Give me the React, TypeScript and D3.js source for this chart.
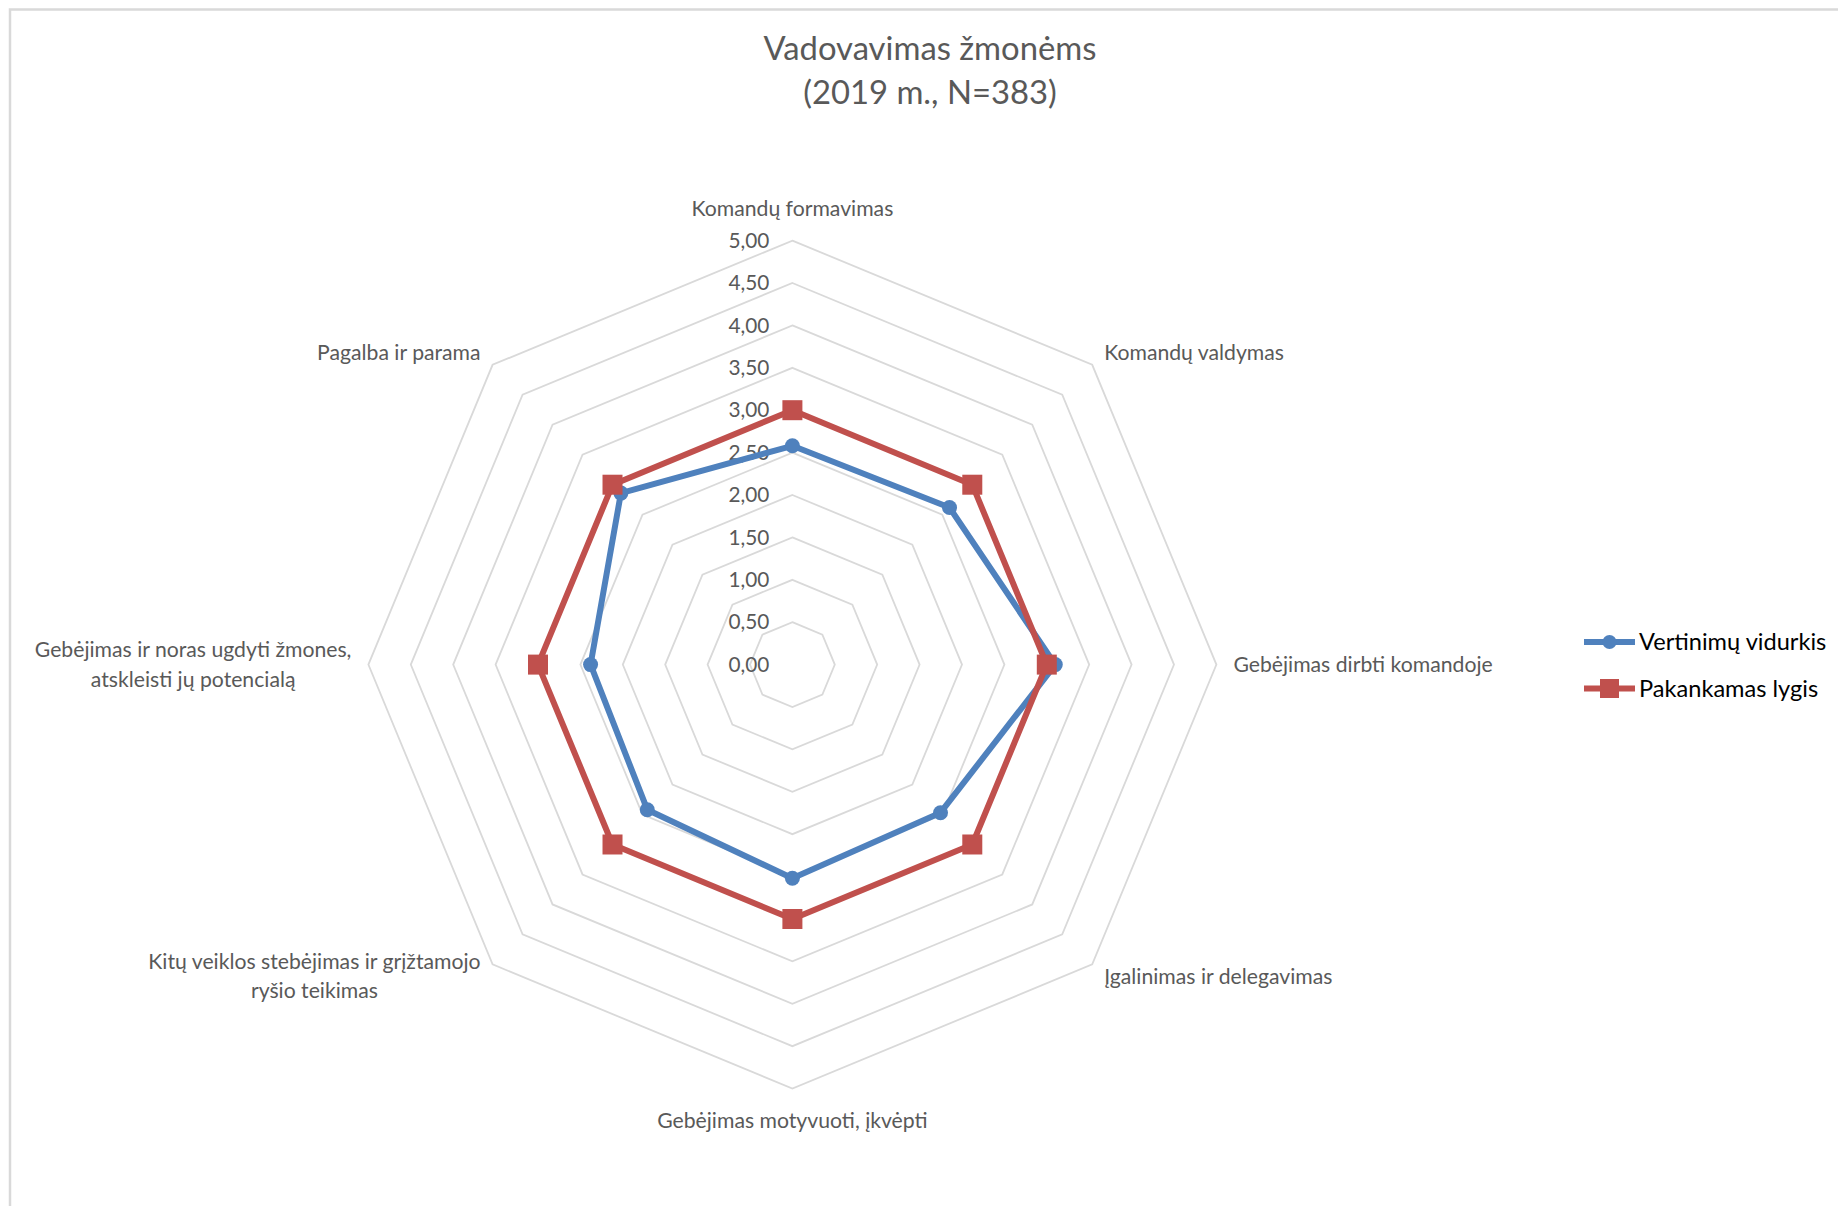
import React, { useEffect, useRef } from 'react';
import * as d3 from 'd3';

// chart data
const categories = [
  'Komandų formavimas',
  'Komandų valdymas',
  'Gebėjimas dirbti komandoje',
  'Įgalinimas ir delegavimas',
  'Gebėjimas motyvuoti, įkvėpti',
  'Kitų veiklos stebėjimas ir grįžtamojo\nryšio teikimas',
  'Gebėjimas ir noras ugdyti žmones,\natskleisti jų potencialą',
  'Pagalba ir parama',
];
const averageValues = [2.58, 2.62, 3.1, 2.47, 2.52, 2.42, 2.38, 2.86];
const requiredValues = [3, 3, 3, 3, 3, 3, 3, 3];
const tickValues = [0, 0.5, 1, 1.5, 2, 2.5, 3, 3.5, 4, 4.5, 5];
const seriesNames = ['Vertinimų vidurkis', 'Pakankamas lygis'];
const seriesColors = ['#4f81bd', '#c0504d'];
const titleLines = ['Vadovavimas žmonėms', '(2019 m., N=383)'];

const WIDTH = 1838;
const HEIGHT = 1206;
const FONT = 'Lato, Carlito, Calibri, sans-serif';
const GRAY = '#595959';

const ltFormat = d3.formatLocale({
  decimal: ',',
  thousands: ' ',
  grouping: [3],
  currency: ['', ' €'],
}).format(',.2f');

const App = () => {
  const svgRef = useRef<SVGSVGElement>(null);

  useEffect(() => {
    const svg = d3.select(svgRef.current);
    svg.selectAll('*').remove();

    const cx = 792.4;
    const cy = 664.6;
    const R = 424;
    const n = categories.length;

    const r = d3.scaleLinear().domain([0, 5]).range([0, R]);
    const angle = d3.scaleLinear().domain([0, n]).range([0, 2 * Math.PI]);

    // chart area border
    svg
      .append('rect')
      .attr('x', 10)
      .attr('y', 9.5)
      .attr('width', WIDTH + 20)
      .attr('height', HEIGHT + 20)
      .attr('fill', '#fff')
      .attr('stroke', '#d9d9d9')
      .attr('stroke-width', 2.5);

    // title
    svg
      .append('g')
      .selectAll('text')
      .data(titleLines)
      .enter()
      .append('text')
      .attr('x', 930)
      .attr('y', (d, i) => 49 + i * 43.5)
      .attr('dy', '0.35em')
      .attr('text-anchor', 'middle')
      .style('font-family', FONT)
      .style('font-size', '32.8px')
      .style('fill', GRAY)
      .text((d) => d);

    const g = svg.append('g').attr('transform', `translate(${cx},${cy})`);

    // grid rings
    const ring = d3
      .lineRadial<number>()
      .angle((d, i) => angle(i))
      .radius((d) => r(d))
      .curve(d3.curveLinearClosed);

    g.selectAll('.ring')
      .data(tickValues.filter((t) => t > 0))
      .enter()
      .append('path')
      .attr('class', 'ring')
      .attr('d', (t) => ring(d3.range(n).map(() => t)))
      .attr('fill', 'none')
      .attr('stroke', '#d9d9d9')
      .attr('stroke-width', 1.8);

    // tick labels
    g.selectAll('.tick')
      .data(tickValues)
      .enter()
      .append('text')
      .attr('class', 'tick')
      .attr('x', -23)
      .attr('y', (t) => -r(t))
      .attr('dy', '0.35em')
      .attr('text-anchor', 'end')
      .style('font-family', FONT)
      .style('font-size', '20.8px')
      .style('fill', GRAY)
      .text((t) => ltFormat(t));

    // category labels
    const pad = 17;
    const lineH = 29.3;
    categories.forEach((label, i) => {
      const a = angle(i);
      const s = Math.sin(a);
      const c = Math.cos(a);
      const vx = r(5) * s;
      const vy = -r(5) * c;
      const lines = label.split('\n');
      const blockH = lines.length * lineH;

      let centerY;
      if (Math.abs(s) < 0.01) {
        centerY = c > 0 ? vy - pad - blockH / 2 : vy + pad + blockH / 2;
      } else {
        centerY = vy - pad * c;
      }

      const t = g
        .append('text')
        .style('font-family', FONT)
        .style('font-size', '21.2px')
        .style('fill', GRAY)
        .attr('text-anchor', 'middle');

      const spans = lines.map((line, k) =>
        t
          .append('tspan')
          .attr('y', centerY + (k - (lines.length - 1) / 2) * lineH)
          .attr('dy', '0.35em')
          .text(line),
      );

      const w = d3.max(spans, (sp) => (sp.node() as SVGTSpanElement).getComputedTextLength()) || 0;
      let mx;
      if (Math.abs(s) < 0.01) mx = vx;
      else if (s > 0) mx = vx + pad * s + w / 2;
      else mx = vx + pad * s - w / 2;
      spans.forEach((sp) => sp.attr('x', mx));
    });

    // series
    const seriesData = [averageValues, requiredValues];
    const seriesLine = d3
      .lineRadial<number>()
      .angle((d, i) => angle(i))
      .radius((d) => r(d))
      .curve(d3.curveLinearClosed);

    seriesData.forEach((values, si) => {
      const sg = g.append('g');
      sg.append('path')
        .attr('d', seriesLine(values))
        .attr('fill', 'none')
        .attr('stroke', seriesColors[si])
        .attr('stroke-width', 6)
        .attr('stroke-linejoin', 'round');

      const pts = values.map((v, i) => [r(v) * Math.sin(angle(i)), -r(v) * Math.cos(angle(i))]);
      if (si === 0) {
        sg.selectAll('circle')
          .data(pts)
          .enter()
          .append('circle')
          .attr('cx', (d) => d[0])
          .attr('cy', (d) => d[1])
          .attr('r', 7.5)
          .attr('fill', seriesColors[si]);
      } else {
        sg.selectAll('rect')
          .data(pts)
          .enter()
          .append('rect')
          .attr('x', (d) => d[0] - 10)
          .attr('y', (d) => d[1] - 10)
          .attr('width', 20)
          .attr('height', 20)
          .attr('fill', seriesColors[si]);
      }
    });

    // legend
    const legend = svg.append('g').attr('transform', 'translate(1584,642)');
    seriesNames.forEach((name, si) => {
      const lg = legend.append('g').attr('transform', `translate(0,${si * 46.5})`);
      lg.append('line')
        .attr('x1', 0)
        .attr('x2', 51)
        .attr('y1', 0)
        .attr('y2', 0)
        .attr('stroke', seriesColors[si])
        .attr('stroke-width', 6);
      if (si === 0) {
        lg.append('circle').attr('cx', 25.5).attr('cy', 0).attr('r', 7).attr('fill', seriesColors[si]);
      } else {
        lg.append('rect')
          .attr('x', 16)
          .attr('y', -9.5)
          .attr('width', 19)
          .attr('height', 19)
          .attr('fill', seriesColors[si]);
      }
      lg.append('text')
        .attr('x', 55)
        .attr('y', 0)
        .attr('dy', '0.35em')
        .style('font-family', FONT)
        .style('font-size', '23.6px')
        .style('fill', '#000')
        .text(name);
    });
  }, []);

  return (
    <div style={{ position: 'absolute', left: 0, top: 0, width: WIDTH, height: HEIGHT, background: '#fff' }}>
      <svg ref={svgRef} width={WIDTH} height={HEIGHT} style={{ display: 'block' }} />
    </div>
  );
};

export default App;
